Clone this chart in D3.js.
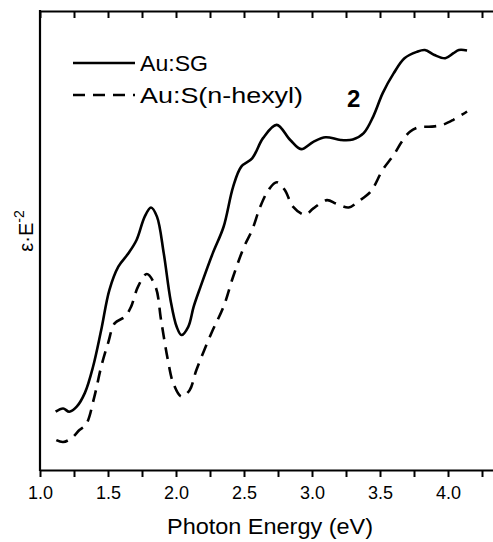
<!DOCTYPE html>
<html>
<head>
<meta charset="utf-8">
<script src="https://cdn.jsdelivr.net/npm/d3@7"></script>
<style>
  body { margin: 0; background: #fff; }
  svg text { font-family: "Liberation Sans", Arial, sans-serif; fill: #000; }
</style>
</head>
<body>
<svg id="chart"></svg>
<script>
'use strict';

// photon energy (eV) and eps*E^-2 (arbitrary units)
const sgEnergy = [1.115, 1.17, 1.215, 1.27, 1.33, 1.39, 1.45, 1.51, 1.576, 1.65, 1.71, 1.77, 1.816, 1.86, 1.91, 1.96, 2.005, 2.04, 2.09, 2.13, 2.18, 2.27, 2.35, 2.42, 2.48, 2.56, 2.64, 2.74, 2.84, 2.92, 3.01, 3.10, 3.21, 3.30, 3.38, 3.45, 3.52, 3.60, 3.68, 3.77, 3.83, 3.90, 3.98, 4.04, 4.08, 4.14];
const sgValue  = [12.7, 13.4, 12.7, 13.8, 16.8, 22.5, 30.5, 39.2, 44.3, 47.2, 50.1, 55.2, 57.2, 55.2, 47.2, 37.0, 31.2, 29.4, 31.2, 35.6, 39.9, 47.2, 53.0, 61.7, 66.1, 67.9, 72.3, 75.2, 71.9, 69.9, 71.5, 72.5, 71.9, 72.0, 73.4, 77.0, 82.1, 86.4, 89.7, 91.1, 91.5, 90.4, 89.7, 90.8, 91.5, 91.4];

const hexEnergy = [1.12, 1.17, 1.23, 1.29, 1.34, 1.40, 1.45, 1.50, 1.55, 1.625, 1.67, 1.72, 1.785, 1.85, 1.89, 1.94, 1.98, 2.04, 2.10, 2.15, 2.26, 2.35, 2.42, 2.50, 2.56, 2.62, 2.68, 2.74, 2.80, 2.86, 2.95, 3.01, 3.11, 3.18, 3.27, 3.34, 3.43, 3.52, 3.60, 3.66, 3.72, 3.79, 3.88, 3.96, 4.04, 4.14];
const hexValue  = [6.5, 6.1, 6.9, 8.7, 10.0, 16.0, 22.5, 27.6, 32.0, 33.4, 35.6, 39.9, 42.7, 39.9, 32.7, 24.0, 18.9, 16.0, 17.4, 21.8, 29.8, 35.6, 42.1, 48.6, 52.3, 57.4, 61.0, 62.7, 61.0, 57.4, 55.6, 57.0, 58.8, 58.0, 57.2, 58.5, 60.6, 65.4, 68.6, 71.5, 73.7, 74.7, 74.8, 75.2, 76.3, 78.1];

const xTicks = [1.0, 1.25, 1.5, 1.75, 2.0, 2.25, 2.5, 2.75, 3.0, 3.25, 3.5, 3.75, 4.0, 4.25];
const seriesNames = ['Au:SG', 'Au:S(n-hexyl)'];

const W = 493, H = 542;
const margin = { top: 11, right: 0, bottom: 72, left: 40 };

const svg = d3.select('#chart').attr('width', W).attr('height', H);

const x = d3.scaleLinear().domain([1.0, 4.35]).range([margin.left, margin.left + 3.35 * 136]);
const y = d3.scaleLinear().domain([0, 100]).range([H - margin.bottom, margin.top]);

const line = d3.line()
  .x(d => x(d[0]))
  .y(d => y(d[1]))
  .curve(d3.curveCatmullRom.alpha(0.5));

const sgData = sgEnergy.map((e, i) => [e, sgValue[i]]);
const hexData = hexEnergy.map((e, i) => [e, hexValue[i]]);

// axes
const bottomAxis = svg.append('g')
  .attr('transform', `translate(0, ${y(0)})`)
  .call(d3.axisBottom(x).tickValues(xTicks).tickSize(7).tickSizeOuter(0)
    .tickFormat(d => (d * 2) % 1 === 0 ? d.toFixed(1) : ''));
bottomAxis.select('.domain').attr('stroke-width', 2.2);
bottomAxis.selectAll('.tick line').attr('stroke-width', 2);
bottomAxis.selectAll('.tick text').attr('font-size', 18).attr('dy', '1.05em');

const topAxis = svg.append('g')
  .attr('transform', `translate(0, ${y(100)})`)
  .call(d3.axisBottom(x).tickValues(xTicks).tickSize(7).tickSizeOuter(0).tickFormat(''));
topAxis.select('.domain').attr('stroke-width', 2.2);
topAxis.selectAll('.tick line').attr('stroke-width', 2);

svg.append('line')
  .attr('x1', x(1.0)).attr('x2', x(1.0))
  .attr('y1', y(100) - 1).attr('y2', y(0) + 1)
  .attr('stroke', '#000').attr('stroke-width', 2.2);

// curves
svg.append('path').datum(sgData)
  .attr('d', line).attr('fill', 'none')
  .attr('stroke', '#000').attr('stroke-width', 2.6);

svg.append('path').datum(hexData)
  .attr('d', line).attr('fill', 'none')
  .attr('stroke', '#000').attr('stroke-width', 2.6)
  .attr('stroke-dasharray', '12,8');

// legend
const legend = svg.append('g');
const legendRows = [['none', 63, 68], ['12,8', 95, 163]];
legendRows.forEach((s, i) => {
  legend.append('line')
    .attr('x1', 73).attr('x2', 135).attr('y1', s[1]).attr('y2', s[1])
    .attr('stroke', '#000').attr('stroke-width', 2.6)
    .attr('stroke-dasharray', s[0]);
  legend.append('text')
    .attr('x', 140).attr('y', s[1] + 8)
    .attr('font-size', 22)
    .attr('textLength', s[2]).attr('lengthAdjust', 'spacingAndGlyphs')
    .text(seriesNames[i]);
});

svg.append('text')
  .attr('x', 347).attr('y', 107)
  .attr('font-size', 24).attr('font-weight', 'bold')
  .text('2');

// axis titles
svg.append('text')
  .attr('x', 167).attr('y', 534)
  .attr('font-size', 22)
  .attr('textLength', 206).attr('lengthAdjust', 'spacingAndGlyphs')
  .text('Photon Energy (eV)');

const yTitle = svg.append('text')
  .attr('transform', 'translate(33, 231) rotate(-90)')
  .attr('text-anchor', 'middle')
  .attr('font-size', 20);
yTitle.append('tspan').text('ε·E');
yTitle.append('tspan').attr('font-size', 14).attr('dy', -9).text('-2');
</script>
</body>
</html>
